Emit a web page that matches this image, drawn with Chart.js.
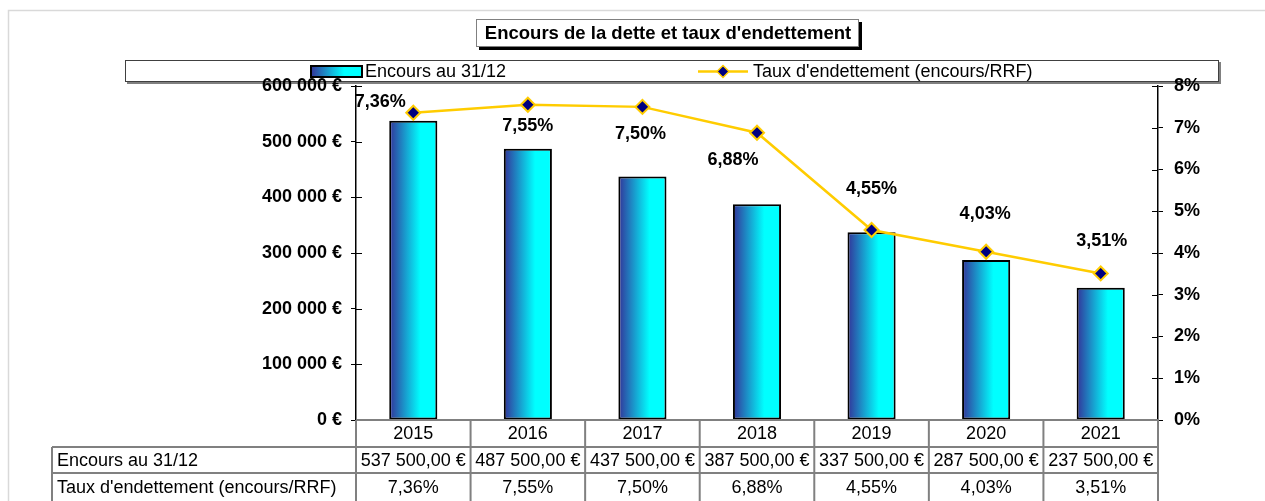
<!DOCTYPE html>
<html>
<head>
<meta charset="utf-8">
<script src="https://cdn.jsdelivr.net/npm/chart.js@4/dist/chart.umd.min.js"></script>
<style>
  html, body { margin: 0; padding: 0; background: #ffffff; }
  #chart { display: block; }
</style>
</head>
<body>
<canvas id="chart" width="1265" height="501"></canvas>
<script>
// Data
const years = ['2015', '2016', '2017', '2018', '2019', '2020', '2021'];
const encours = [537500, 487500, 437500, 387500, 337500, 287500, 237500];
const tauxEndettement = [7.36, 7.55, 7.50, 6.88, 4.55, 4.03, 3.51];
const seriesNames = ['Encours au 31/12', "Taux d'endettement (encours/RRF)"];
const chartTitle = "Encours de la dette et taux d'endettement";

const FONT = "'Liberation Sans', Arial, sans-serif";
// label nudges (dx, dy) relative to each line point, as placed in the original
const labelOffsets = [[-33, -11], [0, 21], [-2, 27], [-24, 27], [0, -41], [-1, -38], [1, -32]];

function frNumber(v, decimals) {
    const parts = v.toFixed(decimals).split('.');
    const intPart = parts[0].replace(/\B(?=(\d{3})+(?!\d))/g, ' ');
    return parts.length > 1 ? intPart + ',' + parts[1] : intPart;
}

function barGradient(ctx, x0, x1) {
    const g = ctx.createLinearGradient(x0, 0, x1, 0);
    g.addColorStop(0, '#333399');
    g.addColorStop(0.65, '#00ffff');
    g.addColorStop(1, '#00ffff');
    return g;
}

const decorPlugin = {
    id: 'decor',
    beforeDraw(chart) {
        const ctx = chart.ctx;
        ctx.save();
        // outer frame
        ctx.strokeStyle = '#d9d9d9';
        ctx.lineWidth = 1.5;
        ctx.beginPath();
        ctx.moveTo(8.5, 501);
        ctx.lineTo(8.5, 10.5);
        ctx.lineTo(1265, 10.5);
        ctx.stroke();

        // title box with shadow
        ctx.fillStyle = '#000000';
        ctx.fillRect(479, 22, 383, 28);
        ctx.fillStyle = '#ffffff';
        ctx.fillRect(476, 19, 383, 28);
        ctx.strokeStyle = '#808080';
        ctx.lineWidth = 1;
        ctx.strokeRect(476.5, 19.5, 382, 27);
        ctx.fillStyle = '#000000';
        ctx.font = 'bold 18.5px ' + FONT;
        ctx.textAlign = 'center';
        ctx.textBaseline = 'middle';
        ctx.fillText(chartTitle, 668, 34);

        // legend box
        ctx.fillStyle = '#808080';
        ctx.fillRect(127, 62, 1094, 22);
        ctx.fillStyle = '#ffffff';
        ctx.fillRect(125, 60, 1094, 22);
        ctx.strokeStyle = '#404040';
        ctx.lineWidth = 1;
        ctx.strokeRect(125.5, 60.5, 1093, 21);

        // legend: bar swatch
        ctx.fillStyle = barGradient(ctx, 311, 362);
        ctx.fillRect(311, 66, 51, 11);
        ctx.strokeStyle = '#000000';
        ctx.lineWidth = 2;
        ctx.strokeRect(311, 66, 51, 11);
        ctx.fillStyle = '#000000';
        ctx.font = '18px ' + FONT;
        ctx.textAlign = 'left';
        ctx.fillText(seriesNames[0], 365, 72);

        // legend: line swatch
        ctx.strokeStyle = '#ffcc00';
        ctx.lineWidth = 2.5;
        ctx.beginPath();
        ctx.moveTo(698, 71.5);
        ctx.lineTo(748, 71.5);
        ctx.stroke();
        ctx.beginPath();
        ctx.moveTo(723, 65.5);
        ctx.lineTo(729, 71.5);
        ctx.lineTo(723, 77.5);
        ctx.lineTo(717, 71.5);
        ctx.closePath();
        ctx.fillStyle = '#000080';
        ctx.fill();
        ctx.lineWidth = 1.5;
        ctx.stroke();
        ctx.fillStyle = '#000000';
        ctx.fillText(seriesNames[1], 753, 72);
        ctx.restore();
    },
    afterDraw(chart) {
        const ctx = chart.ctx;
        const area = chart.chartArea;
        const xs = chart.scales.x;
        const yL = chart.scales.y;
        const yR = chart.scales.y1;
        const colW = (area.right - area.left) / years.length;
        ctx.save();

        // inner halves of the cross tick marks
        ctx.strokeStyle = '#000000';
        ctx.lineWidth = 1;
        yL.ticks.forEach(t => {
            const py = Math.round(yL.getPixelForValue(t.value)) + 0.5;
            ctx.beginPath();
            ctx.moveTo(area.left, py);
            ctx.lineTo(area.left + 6, py);
            ctx.stroke();
        });
        yR.ticks.forEach(t => {
            const py = Math.round(yR.getPixelForValue(t.value)) + 0.5;
            ctx.beginPath();
            ctx.moveTo(area.right - 6, py);
            ctx.lineTo(area.right, py);
            ctx.stroke();
        });

        // data table
        const tableLeft = 52;
        const rowTops = [area.bottom, 447, 473, 501];
        ctx.strokeStyle = '#808080';
        ctx.lineWidth = 2;
        ctx.beginPath();
        ctx.moveTo(area.left, rowTops[0]);
        ctx.lineTo(area.right, rowTops[0]);
        for (let r = 1; r < 3; r++) {
            ctx.moveTo(tableLeft, rowTops[r]);
            ctx.lineTo(area.right, rowTops[r]);
        }
        ctx.moveTo(tableLeft, rowTops[1]);
        ctx.lineTo(tableLeft, 501);
        for (let i = 0; i <= years.length; i++) {
            const vx = area.left + i * colW;
            ctx.moveTo(vx, rowTops[0]);
            ctx.lineTo(vx, 501);
        }
        ctx.stroke();

        ctx.fillStyle = '#000000';
        ctx.font = '18px ' + FONT;
        ctx.textBaseline = 'middle';
        ctx.textAlign = 'left';
        ctx.fillText(seriesNames[0], tableLeft + 5, (rowTops[1] + rowTops[2]) / 2 + 1);
        ctx.fillText(seriesNames[1], tableLeft + 5, (rowTops[2] + rowTops[3]) / 2 + 1);
        ctx.textAlign = 'center';
        years.forEach((yr, i) => {
            const cx = xs.getPixelForValue(i);
            ctx.fillText(yr, cx, (rowTops[0] + rowTops[1]) / 2 + 1);
            ctx.fillText(frNumber(encours[i], 2) + ' €', cx, (rowTops[1] + rowTops[2]) / 2 + 1);
            ctx.fillText(frNumber(tauxEndettement[i], 2) + '%', cx, (rowTops[2] + rowTops[3]) / 2 + 1);
        });

        // line data labels (line is dataset 0)
        ctx.font = 'bold 18px ' + FONT;
        const meta = chart.getDatasetMeta(0);
        meta.data.forEach((pt, i) => {
            const off = labelOffsets[i];
            ctx.fillText(frNumber(tauxEndettement[i], 2) + '%', pt.x + off[0], pt.y + off[1]);
        });
        ctx.restore();
    }
};

const ctx = document.getElementById('chart').getContext('2d');
new Chart(ctx, {
    data: {
        labels: years,
        datasets: [
            {
                type: 'line',
                label: seriesNames[1],
                data: tauxEndettement,
                yAxisID: 'y1',
                order: 0,
                borderColor: '#ffcc00',
                borderWidth: 2.5,
                tension: 0,
                pointStyle: 'rectRot',
                pointRadius: 7,
                pointHoverRadius: 7,
                pointBackgroundColor: '#000080',
                pointBorderColor: '#ffcc00',
                pointBorderWidth: 2
            },
            {
                type: 'bar',
                label: seriesNames[0],
                data: encours,
                yAxisID: 'y',
                order: 1,
                barPercentage: 0.42,
                categoryPercentage: 1,
                borderColor: '#000000',
                borderWidth: 2,
                borderSkipped: false,
                backgroundColor: function(context) {
                    const chart = context.chart;
                    if (!chart.chartArea || context.type !== 'data') return '#00ffff';
                    const xs = chart.scales.x;
                    const cx = xs.getPixelForValue(context.dataIndex);
                    const w = (chart.chartArea.right - chart.chartArea.left) / years.length * 0.42;
                    return barGradient(chart.ctx, cx - w / 2, cx + w / 2);
                }
            }
        ]
    },
    options: {
        responsive: false,
        animation: false,
        devicePixelRatio: 1,
        layout: {
            padding: { top: 86, bottom: 81, left: 0, right: 0 }
        },
        plugins: {
            legend: { display: false },
            title: { display: false },
            tooltip: { enabled: false }
        },
        scales: {
            x: {
                display: false,
                offset: true,
                grid: { display: false }
            },
            y: {
                position: 'left',
                min: 0,
                max: 600000,
                afterFit: (scale) => { scale.width = 356; },
                border: { color: '#000000', width: 1.5 },
                grid: { drawOnChartArea: false, tickLength: 5, color: '#000000' },
                ticks: {
                    stepSize: 100000,
                    padding: 9,
                    color: '#000000',
                    font: { family: FONT, size: 18, weight: 'bold' },
                    callback: (v) => frNumber(v, 0) + ' €'
                }
            },
            y1: {
                position: 'right',
                min: 0,
                max: 8,
                afterFit: (scale) => { scale.width = 107; },
                border: { color: '#000000', width: 1.5 },
                grid: { drawOnChartArea: false, tickLength: 5, color: '#000000' },
                ticks: {
                    stepSize: 1,
                    padding: 11,
                    color: '#000000',
                    font: { family: FONT, size: 18, weight: 'bold' },
                    callback: (v) => v + '%'
                }
            }
        }
    },
    plugins: [decorPlugin]
});
</script>
</body>
</html>
